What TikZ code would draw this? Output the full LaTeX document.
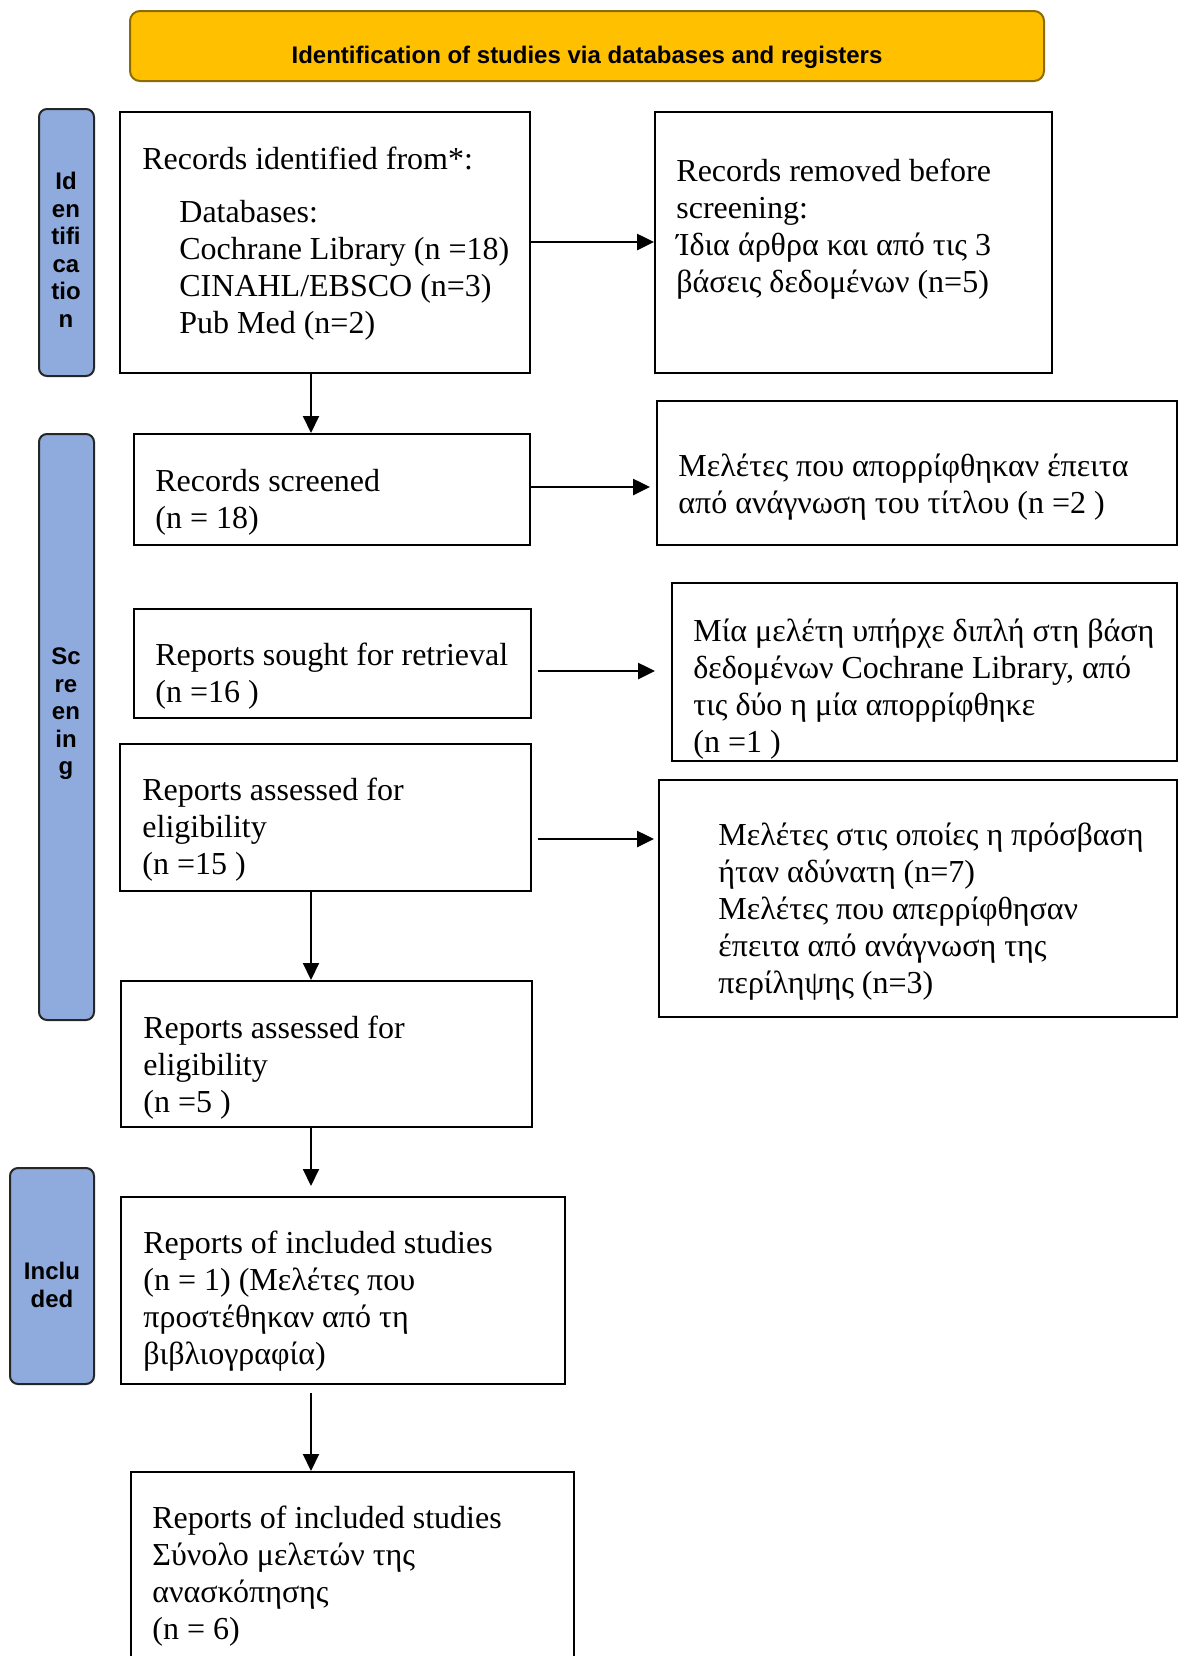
\documentclass[tikz,border=0pt]{standalone}
\usepackage{fontspec}
\setmainfont{Liberation Serif}
\newfontfamily\labfont{Liberation Sans}
\usetikzlibrary{fit,arrows.meta}
\definecolor{sideblue}{HTML}{8FAADC}
\definecolor{bannerfill}{HTML}{FFC000}
\definecolor{bannerdraw}{HTML}{8C6B00}
\begin{document}
\begin{tikzpicture}[x=0.5pt,y=-0.5pt,
  box/.style={draw=black,line width=1pt,inner sep=0pt},
  side/.style={draw=black!85,line width=1pt,fill=sideblue,rounded corners=4pt,inner sep=0pt},
  banner/.style={draw=bannerdraw,line width=1pt,fill=bannerfill,rounded corners=5pt,inner sep=0pt},
  txt/.style={anchor=west,align=left,inner sep=0pt,yshift=-2pt,font=\fontsize{16pt}{18.5pt}\selectfont},
  lab/.style={align=center,inner sep=0pt,font=\labfont\bfseries\fontsize{12pt}{13.75pt}\selectfont},
  arr/.style={-{Triangle[length=8.5pt,width=8pt]},line width=1.3pt},
  varr/.style={-{Triangle[length=8.5pt,width=8pt]},line width=1pt}]
\useasboundingbox (0,0) rectangle (1178,1656);

% banner
\node[banner, fit={(130,11) (1044,81)}] (ban) {};
\node[lab] (bantxt) at (587,57) {Identification of studies via databases and registers};

% side labels
\node[side, fit={(39,109) (94,376)}] (sid) {};
\node[lab] (sidtxt) at (66,250) {Id\\en\\tifi\\ca\\tio\\n};
\node[side, fit={(39,434) (94,1020)}] (sscr) {};
\node[lab] (sscrtxt) at (66,714) {Sc\\re\\en\\in\\g};
\node[side, fit={(10,1168) (94,1384)}] (sinc) {};
\node[lab] (sinctxt) at (52,1285) {Inclu\\ded};

% boxes
\node[box, fit={(120,112) (530,373)}] (b1) {};
\node[txt] (b1t) at (142,240) {Records identified from*:\\[8pt]
  \hspace*{18.5pt}Databases:\\
  \hspace*{18.5pt}Cochrane Library (n =18)\\
  \hspace*{18.5pt}CINAHL/EBSCO (n=3)\\
  \hspace*{18.5pt}Pub Med (n=2)};

\node[box, fit={(655,112) (1052,373)}] (rem) {};
\node[txt] (remt) at (676,225) {Records removed before\\screening:\\Ίδια άρθρα και από τις 3\\βάσεις δεδομένων (n=5)};

\node[box, fit={(134,434) (530,545)}] (scr) {};
\node[txt] (scrt) at (155,498) {Records screened\\(n = 18)};

\node[box, fit={(657,401) (1177,545)}] (exc) {};
\node[txt] (exct) at (678,483) {Μελέτες που απορρίφθηκαν έπειτα\\από ανάγνωση του τίτλου (n =2 )};

\node[box, fit={(134,609) (531,718)}] (sought) {};
\node[txt] (soughtt) at (155,672) {Reports sought for retrieval\\(n =16 )};

\node[box, fit={(672,583) (1177,761)}] (mia) {};
\node[txt] (miat) at (693,685) {Μία μελέτη υπήρχε διπλή στη βάση\\δεδομένων Cochrane Library, από\\τις δύο η μία απορρίφθηκε\\(n =1 )};

\node[box, fit={(120,744) (531,891)}] (a15) {};
\node[txt] (a15t) at (142,826) {Reports assessed for\\eligibility\\(n =15 )};

\node[box, fit={(659,780) (1177,1017)}] (stis) {};
\node[txt] (stist) at (718,908) {Μελέτες στις οποίες η πρόσβαση\\ήταν αδύνατη (n=7)\\Μελέτες που απερρίφθησαν\\έπειτα από ανάγνωση της\\περίληψης (n=3)};

\node[box, fit={(121,981) (532,1127)}] (a5) {};
\node[txt] (a5t) at (143,1064) {Reports assessed for\\eligibility\\(n =5 )};

\node[box, fit={(121,1197) (565,1384)}] (inc) {};
\node[txt] (inct) at (143,1297) {Reports of included studies\\(n = 1) (Μελέτες που\\προστέθηκαν από τη\\βιβλιογραφία)};

\node[box, fit={(131,1472) (574,1670)}] (last) {};
\node[txt] (lastt) at (152,1572) {Reports of included studies\\Σύνολο μελετών της\\ανασκόπησης\\(n = 6)};

% connectors
\draw[arr] (b1.east |- 0,242) -- (rem.west |- 0,242);
\draw[varr] (b1.south -| 311,0) -- (scr.north -| 311,0);
\draw[arr,shorten >=3pt] (scr.east |- 0,487) -- (exc.west |- 0,487);
\draw[arr,shorten <=3pt,shorten >=8pt] (sought.east |- 0,671) -- (mia.west |- 0,671);
\draw[arr,shorten <=3pt,shorten >=2pt] (a15.east |- 0,839) -- (stis.west |- 0,839);
\draw[varr] (a15.south -| 311,0) -- (a5.north -| 311,0);
\draw[varr,shorten >=5pt] (a5.south -| 311,0) -- (inc.north -| 311,0);
\draw[varr,shorten <=4pt] (inc.south -| 311,0) -- (last.north -| 311,0);
\end{tikzpicture}
\end{document}
